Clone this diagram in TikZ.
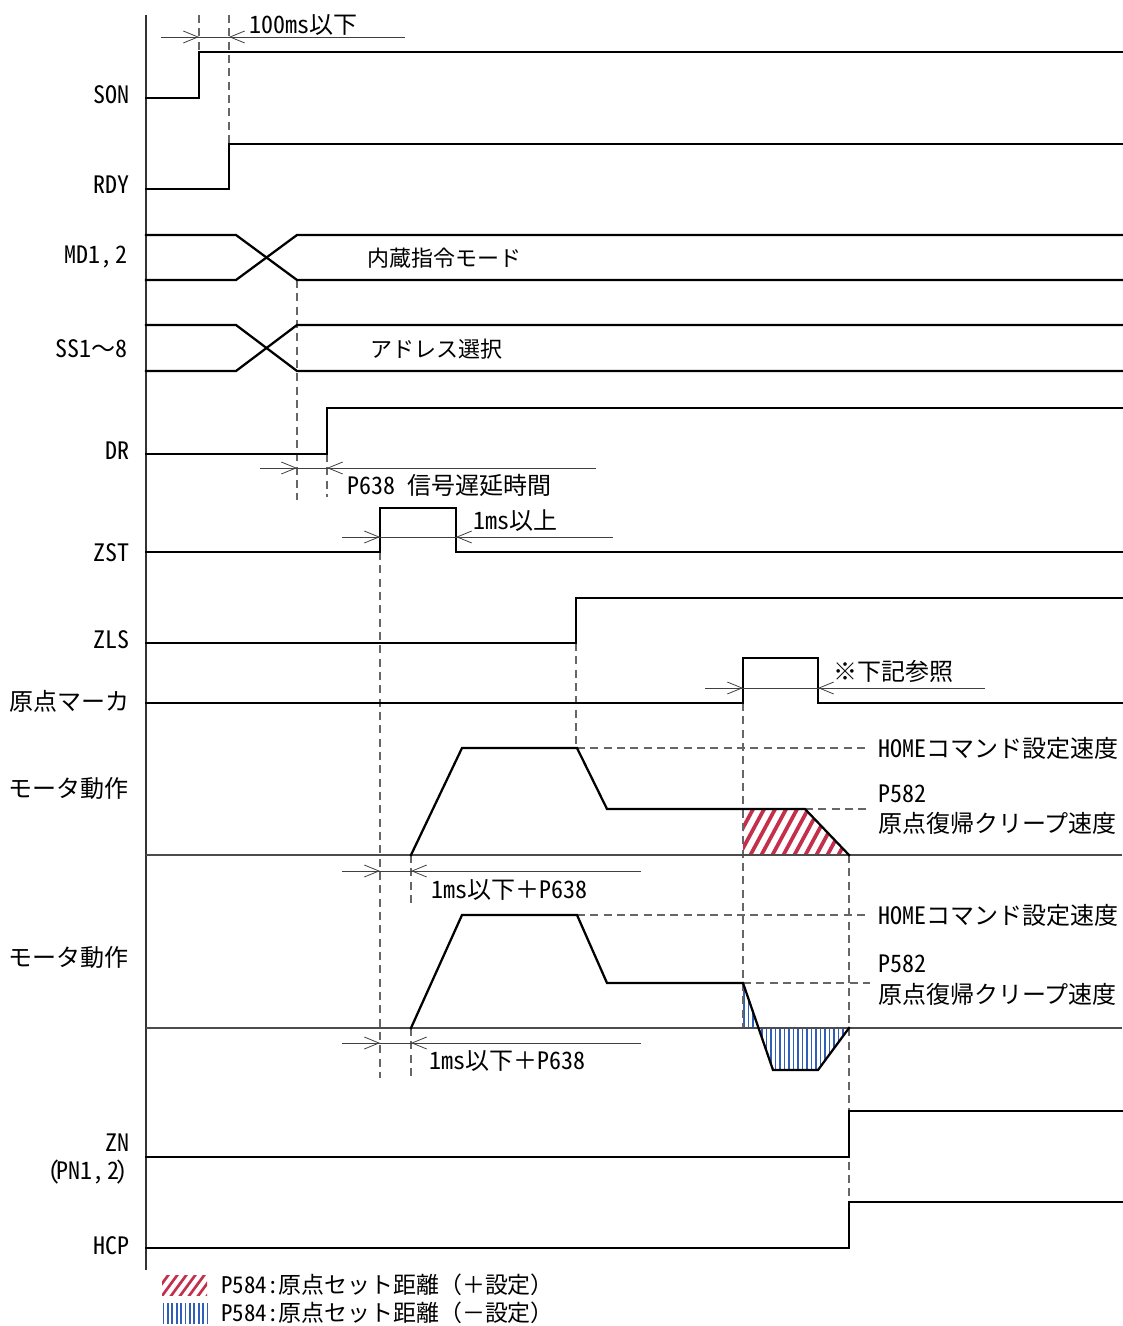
\documentclass[tikz,border=0pt]{standalone}
\usepackage{fontspec}
\setmainfont{Noto Sans CJK JP}
\newfontfamily\lat{Noto Sans CJK JP}[RawFeature={+hwid}]
\usetikzlibrary{arrows.meta}
\definecolor{hred}{HTML}{C4304C}
\definecolor{hblue}{HTML}{2F5FB8}
\newcommand\fsz{\fontsize{18pt}{21pt}\selectfont}
\newcommand\fsm{\fontsize{16.5pt}{19pt}\selectfont}
\newcommand\fsl{\fontsize{17.2pt}{20pt}\selectfont}
\newcommand\cm{{\lat ,}\hspace{0.12em}}
\tikzset{
 sig/.style={line width=1.7pt, line join=miter, line cap=rect},
 baseln/.style={line width=1pt, draw=black!70},
 dimln/.style={line width=0.6pt, draw=black!75},
 dsh/.style={line width=0.9pt, draw=black!60, dash pattern=on 6pt off 4pt},
 tipln/.style={dimln, -{Straight Barb[length=11pt,width=9pt]}},
 lbl/.style={anchor=east, inner sep=0pt, font=\fsz},
 txt/.style={anchor=west, inner sep=0pt, font=\fsz},
 rh/.style={line width=2.8pt, draw=hred},
 bh/.style={line width=1.3pt, draw=hblue},
}
\begin{document}
\begin{tikzpicture}[x=0.75pt,y=-0.75pt]
\useasboundingbox (0,0) rectangle (1122,1326);

% ---------- hatches ----------
\begin{scope}
 \clip (743,809) -- (805,809) -- (849,855) -- (743,855) -- cycle;
 \foreach \i in {0,...,16} \draw[rh] ({690+\i*11},865) -- ({725+\i*11},800);
\end{scope}
\begin{scope}
 \clip (743,983) -- (773,1070) -- (818,1070) -- (849,1028) -- (743,1028) -- cycle;
 \foreach \i in {0,...,24} \draw[bh] ({744+\i*4.5},975) -- ({744+\i*4.5},1075);
\end{scope}
% legend boxes
\begin{scope}
 \clip (162,1275) rectangle (207,1295);
 \foreach \i in {0,...,8} \draw[rh,line width=2pt] ({150+\i*9},1300) -- ({172+\i*9},1270);
\end{scope}
\begin{scope}
 \clip (162,1303) rectangle (208,1323);
 \foreach \i in {0,...,10} \draw[bh] ({163.5+\i*4.4},1300) -- ({163.5+\i*4.4},1326);
\end{scope}

% ---------- dashed guides ----------
\draw[dsh] (199,15) -- (199,52);
\draw[dsh] (229,15) -- (229,144);
\draw[dsh] (297,280) -- (297,500);
\draw[dsh] (327,454) -- (327,497);
\draw[dsh] (380,552) -- (380,1078);
\draw[dsh] (411,855) -- (411,907);
\draw[dsh] (411,1028) -- (411,1078);
\draw[dsh] (576,643) -- (576,748);
\draw[dsh] (743,703) -- (743,1028);
\draw[dsh] (849,855) -- (849,1203);
\draw[dsh] (577,748) -- (870,748);
\draw[dsh] (805,809) -- (870,809);
\draw[dsh] (577,915) -- (870,915);
\draw[dsh] (743,983) -- (870,983);

% ---------- axis & baselines ----------
\draw[line width=1pt, draw=black!80] (146,15) -- (146,1270);
\draw[baseln] (146,855) -- (1122,855);
\draw[baseln] (146,1028) -- (1122,1028);

% ---------- signals ----------
\draw[sig] (146,98) -- (199,98) -- (199,52) -- (1122,52);
\draw[sig] (146,189) -- (229,189) -- (229,144) -- (1122,144);
\draw[sig] (146,235) -- (236,235) -- (297,280) -- (1122,280);
\draw[sig] (146,280) -- (236,280) -- (297,235) -- (1122,235);
\draw[sig] (146,325) -- (236,325) -- (297,371) -- (1122,371);
\draw[sig] (146,371) -- (236,371) -- (297,325) -- (1122,325);
\draw[sig] (146,454) -- (327,454) -- (327,408) -- (1122,408);
\draw[sig] (146,552) -- (380,552) -- (380,508) -- (456,508) -- (456,552) -- (1122,552);
\draw[sig] (146,643) -- (576,643) -- (576,598) -- (1122,598);
\draw[sig] (146,703) -- (743,703) -- (743,658) -- (818,658) -- (818,703) -- (1122,703);
\draw[sig] (411,855) -- (462,748) -- (577,748) -- (607,809) -- (805,809) -- (849,855);
\draw[sig] (411,1028) -- (462,915) -- (577,915) -- (607,983) -- (743,983) -- (773,1070) -- (818,1070) -- (849,1028);
\draw[sig] (146,1157) -- (849,1157) -- (849,1111) -- (1122,1111);
\draw[sig] (146,1248) -- (849,1248) -- (849,1202) -- (1122,1202);

% ---------- dimension lines ----------
\draw[dimln] (161,37) -- (405,37);
\draw[tipln] (170,37) -- (199,37);
\draw[tipln] (258,37) -- (229,37);
\draw[dimln] (260,468) -- (596,468);
\draw[tipln] (268,468) -- (297,468);
\draw[tipln] (356,468) -- (327,468);
\draw[dimln] (342,537) -- (613,537);
\draw[tipln] (350,537) -- (380,537);
\draw[tipln] (486,537) -- (456,537);
\draw[dimln] (705,688) -- (985,688);
\draw[tipln] (713,688) -- (743,688);
\draw[tipln] (848,688) -- (818,688);
\draw[dimln] (342,871) -- (641,871);
\draw[tipln] (350,871) -- (380,871);
\draw[tipln] (441,871) -- (411,871);
\draw[dimln] (342,1043) -- (641,1043);
\draw[tipln] (350,1043) -- (380,1043);
\draw[tipln] (441,1043) -- (411,1043);

% ---------- left labels ----------
\node[lbl] (lSON) at (130,95) {\lat SON};
\node[lbl] (lRDY) at (130,185) {\lat RDY};
\node[lbl] (lMD) at (128,257) {{\lat MD1}\cm{\lat 2}};
\node[lbl] (lSS) at (128,349) {{\lat SS1}～{\lat 8}};
\node[lbl] (lDR) at (130,451) {\lat DR};
\node[lbl] (lZST) at (130,553) {\lat ZST};
\node[lbl] (lZLS) at (130,640) {\lat ZLS};
\node[lbl] (lMK) at (130,701) {原点マーカ};
\node[lbl] (lM1) at (129,788) {モータ動作};
\node[lbl] (lM2) at (129,957) {モータ動作};
\node[lbl] (lZN) at (130,1143) {\lat ZN};
\node[lbl] (lPN) at (128,1172) {{\lat (\kern-3pt PN1}\cm{\lat 2\kern-3pt)}};
\node[lbl] (lHCP) at (130,1246) {\lat HCP};

% ---------- texts ----------
\node[txt] (t100) at (249,25) {{\lat 100ms}以下};
\node[txt,font=\fsm] (tMD) at (367,258) {内蔵指令モード};
\node[txt,font=\fsm] (tSS) at (370,349) {アドレス選択};
\node[txt] (tP638) at (347,485) {{\lat P638 }信号遅延時間};
\node[txt] (t1ms) at (473,521) {{\lat 1ms}以上};
\node[txt] (tref) at (833,671) {※下記参照};
\node[txt] (tH1) at (878,748) {{\lat HOME}コマンド設定速度};
\node[txt] (tP1) at (878,794) {\lat P582};
\node[txt] (tC1) at (878,823) {原点復帰クリープ速度};
\node[txt] (tD1) at (431,890) {{\lat 1ms}以下＋{\lat P638}};
\node[txt] (tH2) at (878,915) {{\lat HOME}コマンド設定速度};
\node[txt] (tP2) at (878,964) {\lat P582};
\node[txt] (tC2) at (878,994) {原点復帰クリープ速度};
\node[txt] (tD2) at (429,1061) {{\lat 1ms}以下＋{\lat P638}};
\node[txt,font=\fsl] (tL1) at (221,1285) {{\lat P584:}原点セット距離（＋設定）};
\node[txt,font=\fsl] (tL2) at (221,1313) {{\lat P584:}原点セット距離（－設定）};
\end{tikzpicture}
\end{document}
